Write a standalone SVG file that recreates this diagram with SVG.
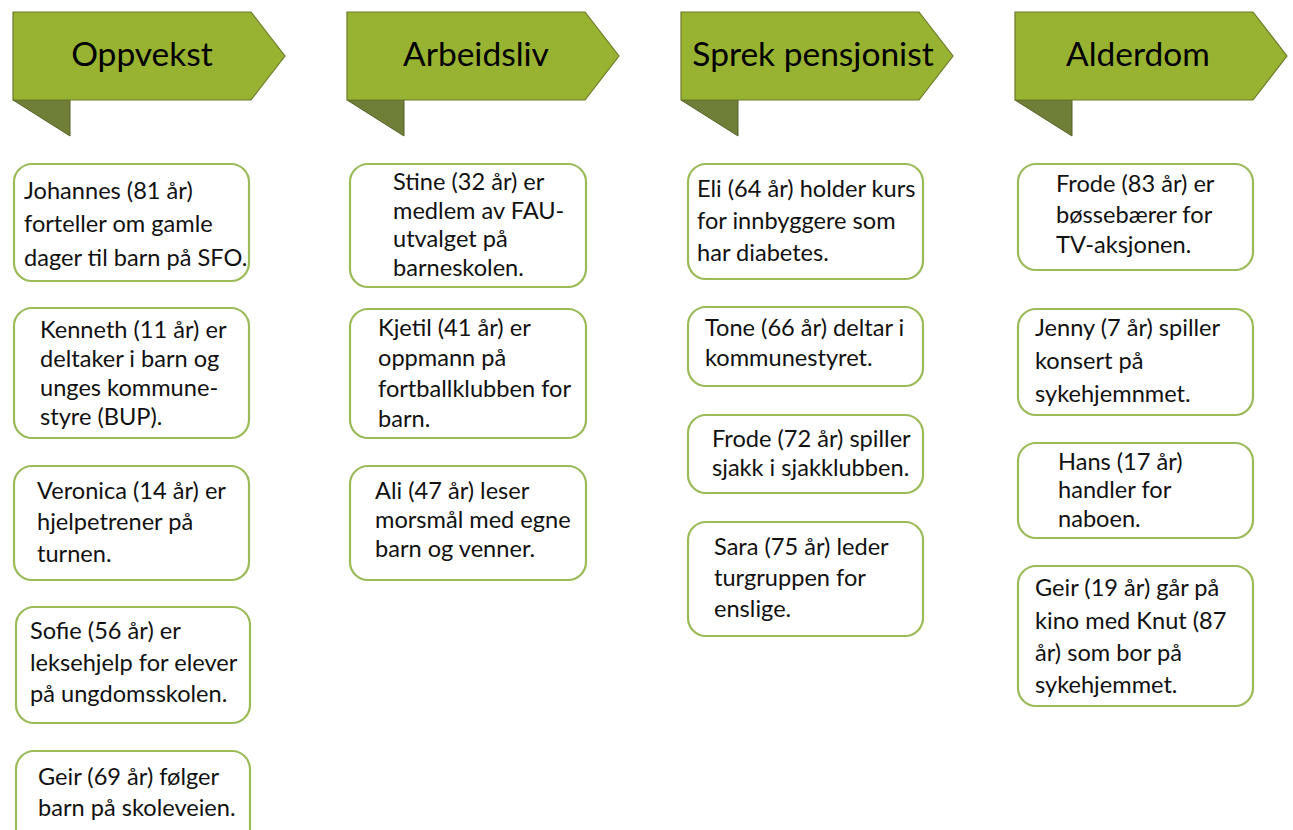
<svg xmlns="http://www.w3.org/2000/svg" width="1293" height="830" viewBox="0 0 1293 830">
<defs>
<style>
.fold{fill:#6f7f38;stroke:#55622a;stroke-width:1}
.ban{fill:#98b232;stroke:#6b7a2a;stroke-width:1.2}
.htxt{font-family:Lato,"Liberation Sans",sans-serif;font-size:33.5px;fill:#000;text-anchor:middle}
.box{fill:#fff;stroke:#9bbb59;stroke-width:2.2}
.t{font-family:Lato,"Liberation Sans",sans-serif;font-size:23.6px;fill:#111}
</style>
</defs>
<rect width="1293" height="830" fill="#fff"/>
<g id="banner-oppvekst">
<polygon class="fold" points="13,100 70,100 70,136"/>
<polygon class="ban" points="13,12 251,12 285,56 251,100 13,100"/>
<text class="htxt" x="142" y="66">Oppvekst</text>
</g>
<g id="banner-arbeidsliv">
<polygon class="fold" points="347,100 404,100 404,136"/>
<polygon class="ban" points="347,12 585,12 619,56 585,100 347,100"/>
<text class="htxt" x="476" y="66">Arbeidsliv</text>
</g>
<g id="banner-sprek">
<polygon class="fold" points="681,100 738,100 738,136"/>
<polygon class="ban" points="681,12 919,12 953,56 919,100 681,100"/>
<text class="htxt" x="813" y="66">Sprek pensjonist</text>
</g>
<g id="banner-alderdom">
<polygon class="fold" points="1015,100 1072,100 1072,136"/>
<polygon class="ban" points="1015,12 1253,12 1287,56 1253,100 1015,100"/>
<text class="htxt" x="1138" y="66">Alderdom</text>
</g>

<g id="box-johannes">
<rect class="box" x="14" y="164" width="235" height="117" rx="18"/>
<text class="t"><tspan x="24" y="199">Johannes (81 år)</tspan><tspan x="24" y="232">forteller om gamle</tspan><tspan x="24" y="266">dager til barn på SFO.</tspan></text>
</g>
<g id="box-kenneth">
<rect class="box" x="14" y="308" width="235" height="130" rx="18"/>
<text class="t"><tspan x="40" y="338">Kenneth (11 år) er</tspan><tspan x="40" y="367">deltaker i barn og</tspan><tspan x="40" y="396">unges kommune-</tspan><tspan x="40" y="425">styre (BUP).</tspan></text>
</g>
<g id="box-veronica">
<rect class="box" x="14" y="466" width="235" height="114" rx="18"/>
<text class="t"><tspan x="37" y="499">Veronica (14 år) er</tspan><tspan x="37" y="530">hjelpetrener på</tspan><tspan x="37" y="562">turnen.</tspan></text>
</g>
<g id="box-sofie">
<rect class="box" x="16" y="607" width="234" height="116" rx="18"/>
<text class="t"><tspan x="30" y="639">Sofie (56 år) er</tspan><tspan x="30" y="671">leksehjelp for elever</tspan><tspan x="30" y="702">på ungdomsskolen.</tspan></text>
</g>
<g id="box-geir69">
<rect class="box" x="16" y="751" width="234" height="100" rx="18"/>
<text class="t"><tspan x="38" y="785">Geir (69 år) følger</tspan><tspan x="38" y="816">barn på skoleveien.</tspan></text>
</g>

<g id="box-stine">
<rect class="box" x="350" y="164" width="236" height="123" rx="18"/>
<text class="t"><tspan x="393" y="190">Stine (32 år) er</tspan><tspan x="393" y="219">medlem av FAU-</tspan><tspan x="393" y="247">utvalget på</tspan><tspan x="393" y="276">barneskolen.</tspan></text>
</g>
<g id="box-kjetil">
<rect class="box" x="350" y="309" width="236" height="129" rx="18"/>
<text class="t"><tspan x="378" y="336">Kjetil (41 år) er</tspan><tspan x="378" y="366">oppmann på</tspan><tspan x="378" y="397">fortballklubben for</tspan><tspan x="378" y="427">barn.</tspan></text>
</g>
<g id="box-ali">
<rect class="box" x="350" y="466" width="236" height="114" rx="18"/>
<text class="t"><tspan x="375" y="499">Ali (47 år) leser</tspan><tspan x="375" y="528">morsmål med egne</tspan><tspan x="375" y="557">barn og venner.</tspan></text>
</g>

<g id="box-eli">
<rect class="box" x="688" y="164" width="235" height="115" rx="18"/>
<text class="t"><tspan x="697" y="197">Eli (64 år) holder kurs</tspan><tspan x="697" y="229">for innbyggere som</tspan><tspan x="697" y="261">har diabetes.</tspan></text>
</g>
<g id="box-tone">
<rect class="box" x="688" y="307" width="235" height="79" rx="18"/>
<text class="t"><tspan x="705" y="336">Tone (66 år) deltar i</tspan><tspan x="705" y="366">kommunestyret.</tspan></text>
</g>
<g id="box-frode72">
<rect class="box" x="688" y="415" width="235" height="78" rx="18"/>
<text class="t"><tspan x="712" y="447">Frode (72 år) spiller</tspan><tspan x="712" y="476">sjakk i sjakklubben.</tspan></text>
</g>
<g id="box-sara">
<rect class="box" x="688" y="522" width="235" height="114" rx="18"/>
<text class="t"><tspan x="714" y="555">Sara (75 år) leder</tspan><tspan x="714" y="586">turgruppen for</tspan><tspan x="714" y="617">enslige.</tspan></text>
</g>

<g id="box-frode83">
<rect class="box" x="1018" y="164" width="235" height="106" rx="18"/>
<text class="t"><tspan x="1056" y="192">Frode (83 år) er</tspan><tspan x="1056" y="223">bøssebærer for</tspan><tspan x="1056" y="253">TV-aksjonen.</tspan></text>
</g>
<g id="box-jenny">
<rect class="box" x="1018" y="309" width="235" height="106" rx="18"/>
<text class="t"><tspan x="1035" y="336">Jenny (7 år) spiller</tspan><tspan x="1035" y="369">konsert på</tspan><tspan x="1035" y="402">sykehjemnmet.</tspan></text>
</g>
<g id="box-hans">
<rect class="box" x="1018" y="443" width="235" height="95" rx="18"/>
<text class="t"><tspan x="1058" y="470">Hans (17 år)</tspan><tspan x="1058" y="498">handler for</tspan><tspan x="1058" y="527">naboen.</tspan></text>
</g>
<g id="box-geir19">
<rect class="box" x="1018" y="566" width="235" height="140" rx="18"/>
<text class="t"><tspan x="1035" y="596">Geir (19 år) går på</tspan><tspan x="1035" y="629">kino med Knut (87</tspan><tspan x="1035" y="661">år) som bor på</tspan><tspan x="1035" y="693">sykehjemmet.</tspan></text>
</g>
</svg>
